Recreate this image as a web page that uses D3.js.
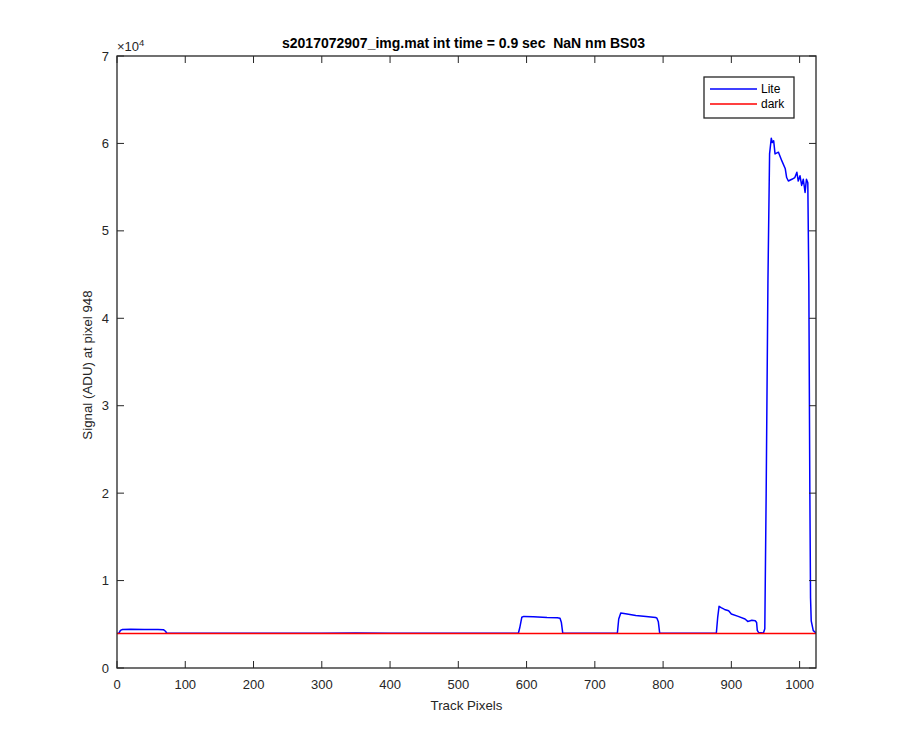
<!DOCTYPE html>
<html><head><meta charset="utf-8">
<script src="https://cdn.jsdelivr.net/npm/d3@7"></script>
<style>body{margin:0;background:#fff}svg{display:block}text{font-family:"Liberation Sans",Arial,sans-serif;white-space:pre}</style>
</head><body>
<svg id="c" width="900" height="750"></svg>
<script>
const titleText = "s2017072907_img.mat int time = 0.9 sec  NaN nm BS03";
const xLabel = "Track Pixels";
const yLabel = "Signal (ADU) at pixel 948";
const xTicks = [0,100,200,300,400,500,600,700,800,900,1000];
const yTicks = [0,1,2,3,4,5,6,7];
const seriesNames = ["Lite","dark"];
// Lite: [pixel, ADU]
const litePx  = [1,3,5,8,20,40,60,68,71,73,150,300,350,400,500,588,590,593,596,610,630,645,649,651,653,700,733,735,738,745,760,775,789,791,793,795,878,880,882,885,890,896,900,910,920,924,930,935,937,938,940,947,949,951,953.6,956,958.5,960,962,964,969,974,979,981,983.5,988.6,993,996,998,1000.6,1003,1005.4,1008,1010,1012,1013.5,1015,1016,1017,1020,1024];
const liteVal = [3950,4000,4300,4400,4420,4400,4410,4380,4200,3980,3980,3970,4000,3980,3970,3980,4600,5800,5900,5850,5780,5760,5700,5200,3990,3970,3980,5600,6280,6200,6000,5900,5780,5700,5300,3980,3980,5800,7050,6900,6700,6550,6180,5900,5600,5330,5450,5410,5200,4300,4050,4000,4500,20000,44300,58800,60600,60100,60300,58800,59000,58000,57100,56100,55700,55900,56100,56700,55700,56300,55200,55900,54400,55900,55500,44000,20000,8000,5400,4270,4000];
const darkPx  = [0,200,400,600,800,1024];
const darkVal = [3950,3945,3955,3950,3948,3952];

const svg = d3.select("#c");
const L=117, T=56, R=816, B=668;
const x = d3.scaleLinear().domain([0,1024]).range([L,R]);
const y = d3.scaleLinear().domain([0,7]).range([B,T]);
const axCol = "#262626";

const line = d3.line().x(d=>x(d[0])).y(d=>y(d[1]/1e4));
const lite = litePx.map((p,i)=>[p,liteVal[i]]);
const dark = darkPx.map((p,i)=>[p,darkVal[i]]);
svg.append("clipPath").attr("id","cp").append("rect").attr("x",L).attr("y",T).attr("width",R-L).attr("height",B-T);
const g = svg.append("g").attr("clip-path","url(#cp)");
g.append("path").datum(lite).attr("d",line).attr("fill","none").attr("stroke","#0000ff").attr("stroke-width",1.5).attr("stroke-linejoin","round");
g.append("path").datum(dark).attr("d",line).attr("fill","none").attr("stroke","#ff0000").attr("stroke-width",1.5);

svg.append("rect").attr("x",L).attr("y",T).attr("width",R-L).attr("height",B-T).attr("fill","none").attr("stroke",axCol).attr("stroke-width",1.3);

const tl = 7, fs = 13;
xTicks.forEach(t=>{
  const xx = x(t);
  svg.append("line").attr("x1",xx).attr("x2",xx).attr("y1",B).attr("y2",B-tl).attr("stroke",axCol);
  svg.append("line").attr("x1",xx).attr("x2",xx).attr("y1",T).attr("y2",T+tl).attr("stroke",axCol);
  svg.append("text").attr("x",xx).attr("y",B+21).attr("text-anchor","middle").attr("font-size",fs).attr("fill",axCol).text(t);
});
yTicks.forEach(t=>{
  const yy = y(t);
  svg.append("line").attr("x1",L).attr("x2",L+tl).attr("y1",yy).attr("y2",yy).attr("stroke",axCol);
  svg.append("line").attr("x1",R).attr("x2",R-tl).attr("y1",yy).attr("y2",yy).attr("stroke",axCol);
  svg.append("text").attr("x",L-8).attr("y",yy+4.5).attr("text-anchor","end").attr("font-size",fs).attr("fill",axCol).text(t);
});
const ex = svg.append("text").attr("x",L).attr("y",T-5).attr("font-size",fs).attr("fill",axCol);
ex.append("tspan").text("\u00d710");
ex.append("tspan").attr("dy",-5).attr("font-size",9.5).text("4");

svg.append("text").attr("x",(L+R)/2).attr("y",B+42).attr("text-anchor","middle").attr("font-size",13.3).attr("fill",axCol).text(xLabel);
svg.append("text").attr("transform",`translate(${L-25},${(T+B)/2+3}) rotate(-90)`).attr("text-anchor","middle").attr("font-size",13.3).attr("fill",axCol).text(yLabel);
svg.append("text").attr("x",(L+R)/2-3).attr("y",T-8).attr("text-anchor","middle").attr("font-size",14).attr("font-weight","bold").attr("fill","#000").text(titleText);

const lg = svg.append("g");
lg.append("rect").attr("x",704).attr("y",77).attr("width",90).attr("height",41).attr("fill","#fff").attr("stroke",axCol).attr("stroke-width",1.3);
const cols=["#0000ff","#ff0000"];
seriesNames.forEach((n,i)=>{
  const yy = 89+i*15;
  lg.append("line").attr("x1",710).attr("x2",757).attr("y1",yy).attr("y2",yy).attr("stroke",cols[i]).attr("stroke-width",1.5);
  lg.append("text").attr("x",761).attr("y",yy+4).attr("font-size",12).attr("fill","#000").text(n);
});
</script>
</body></html>
